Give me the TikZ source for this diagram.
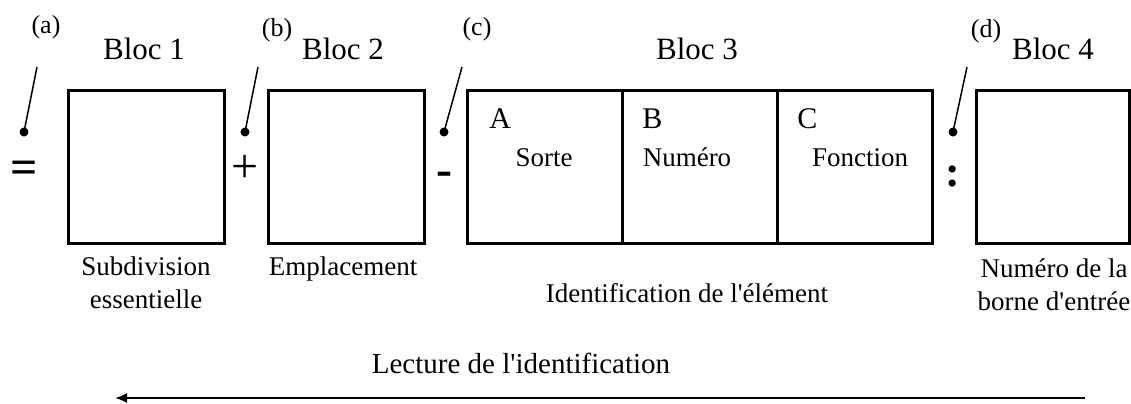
\documentclass[tikz,border=0pt]{standalone}
\usepackage{fontspec}
\setmainfont{Liberation Serif}[Ligatures=TeXOff]
\usetikzlibrary{arrows.meta}
\begin{document}
\begin{tikzpicture}[x=0.5pt,y=-0.5pt,
  blk/.style={draw, line width=1.5pt, minimum width=#1, minimum height=76.5pt, inner sep=0pt, anchor=north west},
  blk/.default=78pt,
  bloclab/.style={font=\fontsize{15.5pt}{18pt}\selectfont, inner sep=0pt, anchor=base},
  letterlab/.style={font=\fontsize{15pt}{18pt}\selectfont, inner sep=0pt, anchor=base west},
  cellname/.style={font=\fontsize{13.5pt}{16pt}\selectfont, inner sep=0pt, anchor=base},
  sublab/.style={font=\fontsize{13.5pt}{16.5pt}\selectfont, inner sep=0pt, anchor=base, align=center},
  tag/.style={font=\fontsize{13pt}{16pt}\selectfont, inner sep=0pt, anchor=base},
  sym/.style={font=\fontsize{24pt}{28pt}\selectfont, inner sep=0pt, anchor=base},
  dotnode/.style={circle, fill, inner sep=0pt, minimum size=4.5pt},
  leader/.style={line width=0.75pt}
]
\useasboundingbox (0,0) rectangle (1131,403);

% boxes
\node[blk] (b1) at (67,89) {};
\node[blk] (b2) at (267,89) {};
\node[blk=77.5pt] (cA) at (466,89) {};
\node[blk=77.5pt] (cB) at (621,89) {};
\node[blk=77.5pt] (cC) at (776,89) {};
\node[blk=76.5pt] (b4) at (975,89) {};

% block titles
\node[bloclab] (t1) at (144,59) {Bloc 1};
\node[bloclab] (t2) at (343,59) {Bloc 2};
\node[bloclab] (t3) at (697,59) {Bloc 3};
\node[bloclab] (t4) at (1053,59) {Bloc 4};

% tags
\node[tag] (ta) at (46,33) {(a)};
\node[tag] (tb) at (277,36) {(b)};
\node[tag] (tc) at (477,35) {(c)};
\node[tag] (td) at (986,37) {(d)};

% leaders
\node[dotnode] (da) at (24,132) {};
\node[dotnode] (db) at (245,132) {};
\node[dotnode] (dc) at (444,132) {};
\node[dotnode] (dd) at (953,132) {};
\coordinate (la) at (37,67);
\coordinate (lb) at (258,67);
\coordinate (lc) at (462,67);
\coordinate (ld) at (967,67);
\draw[leader] (la) -- (da.center);
\draw[leader] (lb) -- (db.center);
\draw[leader] (lc) -- (dc.center);
\draw[leader] (ld) -- (dd.center);

% symbols
\node[sym, font=\fontsize{24pt}{28pt}\selectfont\bfseries] (seq) at (24,183) {=};
\node[sym] (splus) at (245,182) {+};
\node[sym, font=\fontsize{24pt}{28pt}\selectfont\bfseries] (smin) at (444,185) {-};
\node[sym, font=\fontsize{22pt}{28pt}\selectfont\bfseries] (scol) at (953,186) {:};

% cell contents
\node[letterlab] (lA) at (489,128) {A};
\node[letterlab] (lB) at (642,128) {B};
\node[letterlab] (lC) at (797,128) {C};
\node[cellname] (nA) at (544,166) {Sorte};
\node[cellname] (nB) at (687,166) {Numéro};
\node[cellname] (nC) at (860,166) {Fonction};

% captions
\node[sublab] (s1) at (146,308) {Subdivision\\essentielle};
\node[sublab] (s2) at (343,275) {Emplacement};
\node[sublab] (s3) at (687,302) {Identification de l'élément};
\node[sublab] (s4) at (1054,310) {Numéro de la\\borne d'entrée};

% reading direction
\node[font=\fontsize{14.5pt}{17pt}\selectfont, inner sep=0pt, anchor=base] (lect) at (521,373) {Lecture de l'identification};
\coordinate (ar) at (1085,398);
\coordinate (al) at (115,398);
\draw[line width=1pt, -{Latex[length=6pt,width=5pt]}] (ar) -- (al);
\end{tikzpicture}
\end{document}
